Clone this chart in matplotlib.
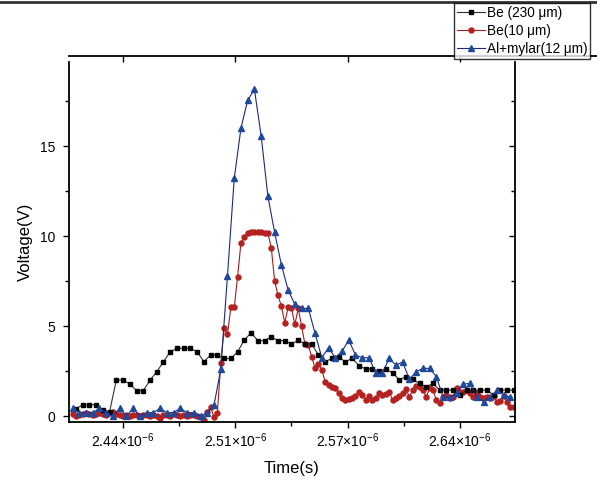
import numpy as np
import matplotlib
matplotlib.use("Agg")
import matplotlib.pyplot as plt
from matplotlib.ticker import FixedLocator, FuncFormatter
from matplotlib.lines import Line2D

plt.rcParams["font.family"] = ["Liberation Sans", "DejaVu Sans"]
plt.rcParams["mathtext.fontset"] = "custom"
plt.rcParams["mathtext.rm"] = "Liberation Sans"
plt.rcParams["mathtext.default"] = "regular"

# ---- data (time in ns, voltage in V) ----
t_be230 = [2412, 2416, 2420, 2424, 2428, 2432, 2436, 2440, 2444, 2448,
           2452, 2456, 2460, 2464, 2468, 2472, 2476, 2480, 2484, 2488,
           2492, 2496, 2500, 2504, 2508, 2512, 2516, 2520, 2524, 2528,
           2532, 2536, 2540, 2544, 2548, 2552, 2556, 2560, 2564, 2568,
           2572, 2576, 2580, 2584, 2588, 2592, 2596, 2600, 2604, 2608,
           2612, 2616, 2620, 2624, 2628, 2632, 2636, 2640, 2644, 2648,
           2652, 2656, 2660, 2664, 2668, 2672]
v_be230 = [0.40, 0.63, 0.63, 0.63, 0.33, 0.24, 2.00, 2.00, 1.78, 1.41,
           1.41, 2.00, 2.46, 3.02, 3.57, 3.76, 3.76, 3.76, 3.57, 3.02,
           3.39, 3.39, 3.20, 3.20, 3.57, 4.22, 4.63, 4.19, 4.19, 4.41,
           4.19, 4.19, 4.00, 4.22, 4.00, 4.00, 3.39, 3.02, 3.20, 3.30,
           3.00, 3.22, 2.80, 2.62, 2.62, 2.50, 2.60, 2.40, 2.02, 2.19,
           2.04, 1.81, 1.63, 1.81, 1.44, 1.44, 1.44, 1.17, 1.44, 1.44,
           1.44, 1.44, 1.17, 1.44, 1.44, 1.44]

t_be10 = [2410, 2412, 2414, 2416, 2418, 2420, 2422, 2424, 2426, 2428,
          2430, 2432, 2434, 2436, 2438, 2440, 2442, 2444, 2446, 2448,
          2450, 2452, 2454, 2456, 2458, 2460, 2462, 2464, 2466, 2468,
          2470, 2472, 2474, 2476, 2478, 2480, 2482, 2484, 2486, 2488,
          2490, 2492, 2494, 2496, 2498, 2500, 2502, 2504, 2506, 2508,
          2510, 2512, 2514, 2516, 2518, 2520, 2522, 2524, 2526, 2528,
          2530, 2532, 2534, 2536, 2538, 2540, 2542, 2544, 2546, 2548,
          2550, 2552, 2554, 2556, 2558, 2560, 2562, 2564, 2566, 2568,
          2570, 2572, 2574, 2576, 2578, 2580, 2582, 2584, 2586, 2588,
          2590, 2592, 2594, 2596, 2598, 2600, 2602, 2604, 2606, 2608,
          2610, 2612, 2614, 2616, 2618, 2620, 2622, 2624, 2626, 2628,
          2630, 2632, 2634, 2636, 2638, 2640, 2642, 2644, 2646, 2648,
          2650, 2652, 2654, 2656, 2658, 2660, 2662, 2664, 2666, 2668,
          2670, 2672]
v_be10 = [0.10, 0.00, 0.05, 0.10, 0.15, 0.10, 0.05, 0.10, 0.15, 0.10,
          0.05, 0.15, 0.20, 0.10, 0.05, 0.00, 0.05, 0.00, 0.05, 0.05,
          0.00, 0.05, 0.05, 0.00, 0.05, 0.00, -0.10, 0.05, 0.05, 0.00,
          0.10, 0.05, 0.00, 0.05, 0.00, 0.05, 0.05, 0.00, -0.05, -0.20,
          0.24, 0.50, -0.07, 0.19, 2.93, 4.90, 4.56, 6.04, 6.04, 7.74,
          9.63, 9.96, 10.19, 10.20, 10.20, 10.20, 10.20, 10.19, 10.15, 9.35,
          7.50, 6.70, 6.10, 5.19, 6.04, 5.98, 5.09, 5.98, 5.00, 3.98,
          3.94, 3.30, 2.65, 2.89, 2.56, 1.91, 1.70, 1.62, 1.54, 1.28,
          1.01, 0.89, 0.93, 0.98, 1.09, 1.35, 1.18, 0.89, 1.12, 0.89,
          0.98, 1.26, 1.17, 1.22, 1.35, 0.89, 0.98, 1.12, 1.26, 1.48,
          1.07, 1.44, 1.67, 1.59, 1.44, 1.07, 1.54, 1.44, 0.89, 0.70,
          1.07, 1.17, 0.98, 1.07, 1.54, 1.35, 1.35, 1.44, 1.26, 1.07,
          1.26, 1.07, 0.98, 1.07, 0.98, 1.10, 0.80, 0.85, 1.11, 0.80,
          0.52, 0.48]

t_al = [2410, 2414, 2418, 2422, 2426, 2430, 2434, 2438, 2442, 2446,
        2450, 2454, 2458, 2462, 2466, 2470, 2474, 2478, 2482, 2486,
        2490, 2494, 2498, 2502, 2506, 2510, 2514, 2518, 2522, 2526,
        2530, 2534, 2538, 2542, 2546, 2550, 2554, 2558, 2562, 2566,
        2570, 2574, 2578, 2582, 2586, 2590, 2594, 2598, 2602, 2606,
        2610, 2614, 2618, 2622, 2626, 2630, 2634, 2638, 2642, 2646,
        2650, 2654, 2658, 2662, 2666, 2670]
v_al = [0.43, 0.19, 0.19, 0.19, 0.43, 0.19, 0.00, 0.43, 0.00, 0.43,
        0.00, 0.19, 0.19, 0.43, 0.19, 0.19, 0.43, 0.19, 0.19, 0.00,
        0.19, 0.61, 2.59, 7.80, 13.20, 16.00, 17.55, 18.15, 15.55, 12.20,
        10.20, 8.40, 7.00, 6.20, 5.98, 5.98, 4.60, 3.24, 3.80, 3.24,
        3.60, 4.22, 3.39, 3.24, 3.24, 2.40, 2.40, 3.20, 2.83, 3.00,
        2.04, 2.46, 2.65, 2.65, 2.19, 1.04, 1.04, 1.26, 1.78, 1.81,
        1.04, 0.80, 1.04, 1.44, 1.17, 1.04]

labels = ["Be (230 μm)", "Be(10 μm)", "Al+mylar(12 μm)"]
x_major = [2.44e-6, 2.44e-6 + 0.2e-6 / 3, 2.44e-6 + 0.4e-6 / 3, 2.64e-6]

W, H = 597, 484
fig = plt.figure(figsize=(W / 100, H / 100), dpi=100)
ax = fig.add_axes([69 / W, 1 - 422 / H, (515 - 69) / W, (422 - 62) / H])

ns = 1e-9
ax.plot(np.array(t_be10) * ns, v_be10, color="#a11d1d", lw=0.8, marker="o",
        ms=3.6, mfc="#b52020", mec="#b52020", label=labels[1], zorder=2)
ax.plot(np.array(t_be230) * ns, v_be230, color="#333333", lw=0.8, marker="s",
        ms=3.4, mfc="black", mec="black", label=labels[0], zorder=3)
ax.plot(np.array(t_al) * ns, v_al, color="#1c2a7a", lw=0.8, marker="^",
        ms=4.6, mfc="#1f4a9c", mec="#1f4a9c", label=labels[2], zorder=4)

ax.set_xlim(2.4079e-6, 2.6727e-6)
ax.set_ylim(-0.33, 19.67)

ax.xaxis.set_major_locator(FixedLocator(x_major))
ax.xaxis.set_minor_locator(FixedLocator([v + 0.1e-6 / 3 for v in x_major]))
ax.xaxis.set_major_formatter(FuncFormatter(lambda v, p: f"{v * 1e6:.2f}×10$^{{-6}}$"))
ax.yaxis.set_major_locator(FixedLocator([0, 5, 10, 15]))
ax.yaxis.set_minor_locator(FixedLocator([2.5, 7.5, 12.5, 17.5]))

ax.spines["top"].set_visible(False)
for s in ["left", "bottom", "right"]:
    ax.spines[s].set_linewidth(1.3)
ax.tick_params(axis="both", which="both", labelsize=10, width=1.0)
ax.tick_params(axis="x", which="major", direction="out", length=4, pad=3, top=True)
ax.tick_params(axis="x", which="minor", direction="out", length=3)
ax.tick_params(axis="y", which="major", direction="out", length=4, pad=6, right=True)
ax.tick_params(axis="y", which="minor", direction="out", length=3, right=True)
# right side ticks point inward
for t in ax.yaxis.get_major_ticks() + ax.yaxis.get_minor_ticks():
    t.tick2line.set_marker(matplotlib.markers.TICKLEFT)

ax.set_xlabel("Time(s)", fontsize=12, labelpad=8)
ax.set_ylabel("Voltage(V)", fontsize=12, labelpad=5)

# frame lines at the top of the crop
fig.add_artist(Line2D([0, 1], [1 - 1.5 / H] * 2, color="#333333", lw=2))
fig.add_artist(Line2D([69 / W, 1], [1 - 55.5 / H] * 2, color="black", lw=1.3))

h, l = ax.get_legend_handles_labels()
order = [1, 0, 2]
leg = fig.legend([h[i] for i in order], [l[i] for i in order],
                 loc="upper left", bbox_to_anchor=(454 / W, 1 - 3 / H),
                 fontsize=9.8, frameon=True, fancybox=False, borderpad=0.2,
                 labelspacing=0.3, handlelength=2.1, handletextpad=0.1,
                 borderaxespad=0)
leg.get_frame().set_edgecolor("black")
leg.get_frame().set_linewidth(1.0)

fig.savefig("out.png", dpi=100)
